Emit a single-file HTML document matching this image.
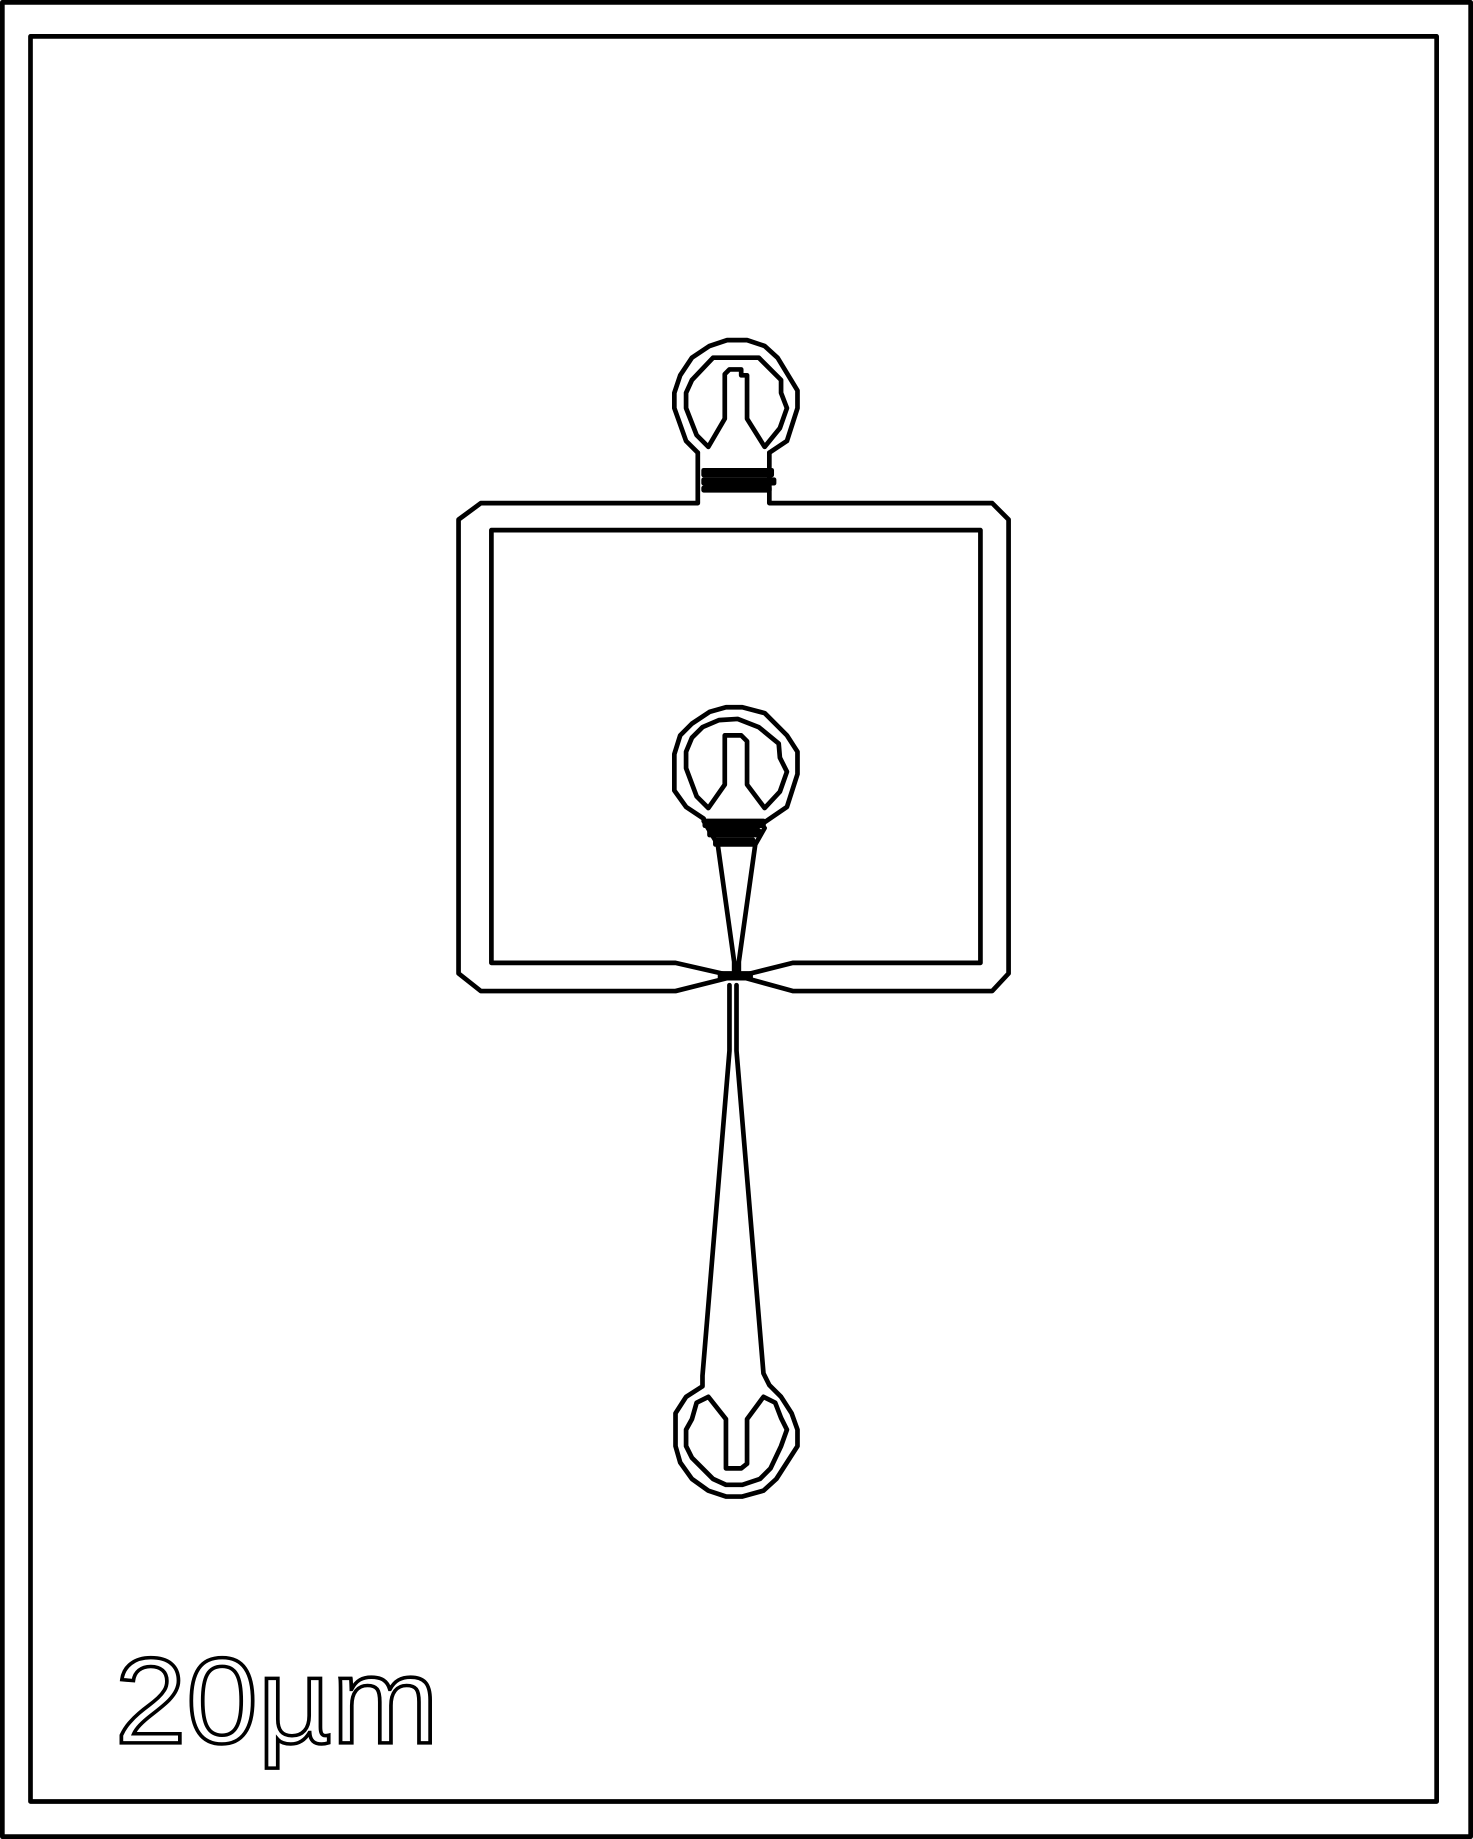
<!DOCTYPE html>
<html><head><meta charset="utf-8"><style>
html,body{margin:0;padding:0;background:#fff;}
svg{display:block;}
</style></head><body>
<svg width="1473" height="1839" viewBox="0 0 1256 1568" preserveAspectRatio="none" xmlns="http://www.w3.org/2000/svg">
<g fill="none" stroke="#000" stroke-width="4" stroke-linejoin="round" stroke-linecap="round">
<rect x="2" y="2" width="1252" height="1564"/>
<rect x="26" y="31" width="1199" height="1505"/>
<path d="M595,386 L595,429 L410,429 L391,443 L391,830 L410,845 L576,845 L620,834 L636,834 L676,845 L846,845 L860,830 L860,443 L846,429 L656,429 L656,386"/>
<path d="M419,452 L836,452 L836,821 L676,821 L636,831 L620,831 L576,821 L419,821 Z"/>
<path d="M595,386 L585,376 L575,348 L575,335 L580,320 L590,305 L605,295 L620,290 L637,290 L652,295 L663,305 L680,333 L680,348 L671,376 L656,386"/>
<path d="M604,381 L594,371 L585,348 L585,335 L590,324 L608,305 L647,305 L666,324 L666,335 L671,348 L665,365 L652,381 L637,357 L637,320 L632,320 L632,315 L622,315 L618,319 L618,357 Z"/>
<path d="M600,698 L585,688 L575,674 L575,643 L580,627 L590,617 L605,607 L619,603 L633,603 L652,608 L671,627 L680,641 L680,660 L671,688 L652,701"/>
<path d="M604,689 L594,679 L585,655 L585,641 L590,629 L599,620 L613,614 L629,613 L647,620 L664,634 L665,646 L671,658 L665,675 L652,689 L637,669 L637,632 L632,627 L618,627 L618,669 Z"/>
<path d="M600,700 L612,720 L626,820 L626,832"/>
<path d="M652,706 L644,720 L630,820 L630,832"/>
<path d="M622,840 L622,896 L599,1173 L599,1182 L585,1191 L576,1205 L576,1233 L580,1247 L590,1261 L604,1271 L619,1276 L633,1276 L651,1271 L662,1261 L680,1233 L680,1219 L675,1205 L666,1191 L656,1181 L651,1171 L628,896 L628,840"/>
<path d="M604,1191 L594,1196 L590,1210 L585,1219 L585,1233 L590,1243 L608,1261 L619,1266 L633,1266 L648,1261 L657,1252 L666,1233 L671,1219 L666,1209 L661,1196 L651,1191 L637,1210 L637,1248 L632,1252 L619,1252 L619,1210 Z"/>
</g>
<g fill="#000">
<rect x="598" y="399" width="62" height="8" rx="2"/>
<rect x="598" y="407" width="64" height="7" rx="2"/>
<rect x="598" y="414" width="60" height="6" rx="2"/>
<rect x="599" y="698" width="54" height="8" rx="2"/>
<rect x="603" y="706" width="46" height="8" rx="2"/>
<rect x="608" y="714" width="36" height="8" rx="2"/>
<rect x="612" y="828" width="30" height="8"/>
</g>
<text x="98" y="1486" font-family="'Liberation Sans',sans-serif" font-size="104" fill="none" stroke="#000" stroke-width="3" textLength="276" lengthAdjust="spacingAndGlyphs">20µm</text>
</svg>
</body></html>
